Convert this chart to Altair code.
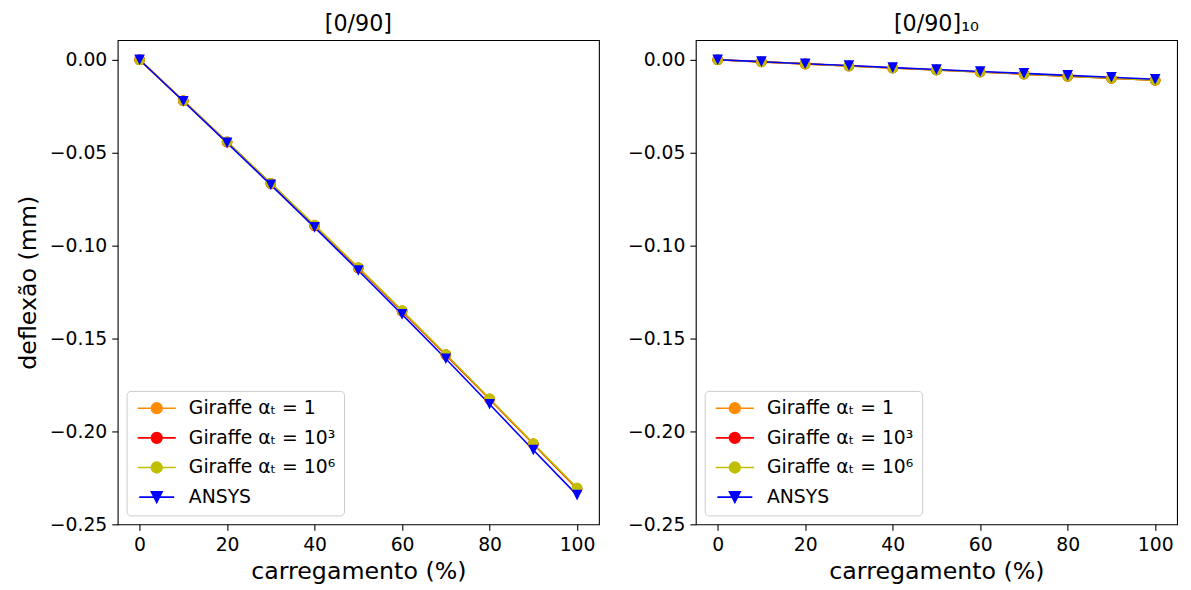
import altair as alt
import pandas as pd

# ---------------- data ----------------
load_pct = [0, 10, 20, 30, 40, 50, 60, 70, 80, 90, 100]
series_names = ["Giraffe αₜ = 1", "Giraffe αₜ = 10³", "Giraffe αₜ = 10⁶", "ANSYS"]
series_colors = ["#ff8c00", "#ff0000", "#bfbf00", "#0000ff"]
panel_titles = ["[0/90]", "[0/90]₁₀"]

# left panel [0/90]
left_giraffe_a1 = [0.0, -0.0220, -0.0442, -0.0665, -0.0891, -0.1119, -0.1351, -0.1586, -0.1825, -0.2066, -0.2306]
left_giraffe_a3 = [0.0, -0.0221, -0.0443, -0.0666, -0.0893, -0.1121, -0.1353, -0.1588, -0.1827, -0.2068, -0.2310]
left_giraffe_a6 = [0.0, -0.0220, -0.0441, -0.0664, -0.0890, -0.1118, -0.1350, -0.1585, -0.1824, -0.2065, -0.2305]
left_ansys = [0.0, -0.0223, -0.0447, -0.0673, -0.0902, -0.1134, -0.1370, -0.1609, -0.1854, -0.2100, -0.2343]

# right panel [0/90]_10
right_giraffe_a1 = [0.0, -0.0011, -0.0022, -0.0033, -0.0044, -0.0055, -0.0066, -0.0077, -0.0088, -0.0099, -0.0110]
right_giraffe_a3 = [0.0, -0.0011, -0.0022, -0.0033, -0.0044, -0.0055, -0.0066, -0.0077, -0.0088, -0.0099, -0.0110]
right_giraffe_a6 = [0.0, -0.0011, -0.0022, -0.0033, -0.0044, -0.0055, -0.0066, -0.0077, -0.0088, -0.0099, -0.0110]
right_ansys = [0.0, -0.0010, -0.0021, -0.0031, -0.0042, -0.0052, -0.0063, -0.0073, -0.0084, -0.0094, -0.0105]

x_ticks = [0, 20, 40, 60, 80, 100]
y_ticks = [0.0, -0.05, -0.10, -0.15, -0.20, -0.25]

# legend/marker shapes: line segment (stroke only) + marker (fill)
circle_shape = "M-3.6,0H3.6M1,0A1,1,0,1,1,-1,0A1,1,0,1,1,1,0Z"
tri_shape = "M-3.3,0H3.3M0,1L-1,-1L1,-1Z"
series_shapes = [circle_shape, circle_shape, circle_shape, tri_shape]

FONT = "DejaVu Sans"


def make_panel(values, title, y_title):
    rows = []
    for name, vals in zip(series_names, values):
        for x, y in zip(load_pct, vals):
            rows.append({"load": x, "defl": y, "series": name})
    df = pd.DataFrame(rows)

    x_enc = alt.X(
        "load:Q",
        scale=alt.Scale(domain=[-5, 105], nice=False, zero=False),
        axis=alt.Axis(values=x_ticks, title="carregamento (%)"),
    )
    y_axis = alt.Axis(values=y_ticks, format=".2f", title=y_title) if y_title else alt.Axis(values=y_ticks, format=".2f", title=None)
    y_enc = alt.Y(
        "defl:Q",
        scale=alt.Scale(domain=[-0.25, 0.0106], nice=False, zero=False),
        axis=y_axis,
    )
    legend = alt.Legend(
        title=None,
        orient="bottom-left",
        offset=9,
        padding=8,
        fillColor="rgba(255,255,255,0.8)",
        strokeColor="#cccccc",
        cornerRadius=4,
        labelFont=FONT,
        labelFontSize=19,
        labelColor="black",
        symbolSize=115,
        symbolStrokeWidth=1.7,
        symbolOffset=13,
        labelOffset=23,
        rowPadding=10,
    )
    color_scale = alt.Scale(domain=series_names, range=series_colors)
    lines = alt.Chart(df).mark_line(strokeWidth=1.6).encode(
        x=x_enc,
        y=y_enc,
        color=alt.Color("series:N", scale=color_scale, legend=legend),
    )
    points = alt.Chart(df).mark_point(filled=True, opacity=1, strokeWidth=0).encode(
        x=x_enc,
        y=y_enc,
        color=alt.Color("series:N", scale=color_scale, legend=legend),
        stroke=alt.Stroke("series:N", scale=color_scale, legend=legend),
        shape=alt.Shape("series:N", scale=alt.Scale(domain=series_names, range=series_shapes), legend=legend),
        size=alt.value(115),
    )
    return alt.layer(lines, points).properties(
        width=487, height=490,
        title=alt.TitleParams(title, fontSize=22.5, font=FONT, fontWeight="normal", offset=5),
    )


left = make_panel([left_giraffe_a1, left_giraffe_a3, left_giraffe_a6, left_ansys], panel_titles[0], "deflexão (mm)")
right = make_panel([right_giraffe_a1, right_giraffe_a3, right_giraffe_a6, right_ansys], panel_titles[1], None)

chart = alt.hconcat(left, right, spacing=27).resolve_scale(
    color="independent", stroke="independent", shape="independent"
).properties(
    padding={"left": 8, "top": 0, "right": 5, "bottom": 5}
).configure_view(
    stroke="black", strokeWidth=1.1
).configure_axis(
    grid=False,
    domain=False,
    ticks=True,
    tickColor="black",
    tickSize=6,
    tickWidth=1.1,
    labelColor="black",
    labelFont=FONT,
    labelFontSize=19,
    labelPadding=5,
    titleFont=FONT,
    titleFontSize=24,
    titleFontWeight="normal",
    titleColor="black",
).configure_axisX(
    titlePadding=6,
).configure_axisY(
    titlePadding=9,
)

chart.save("out.html", embed_options={"renderer": "svg", "actions": False})
